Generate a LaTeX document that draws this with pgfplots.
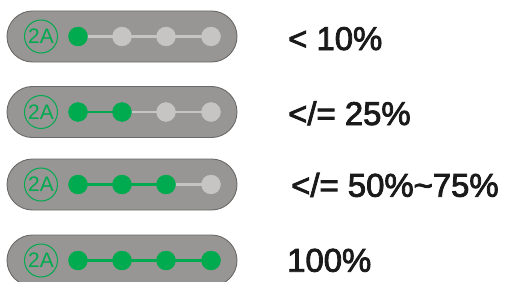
\documentclass[border=0pt]{standalone}
\usepackage{pgfplots}
\pgfplotsset{compat=1.18}
\usepackage{fontspec}
\setmainfont{Liberation Sans}
\newfontfamily\labfont{Liberation Sans}[FakeBold=2.5]
\definecolor{pillfill}{HTML}{979694}
\definecolor{pilledge}{HTML}{6B6A68}
\definecolor{grn}{HTML}{00AA4F}
\definecolor{dotgray}{HTML}{C6C5C3}
\definecolor{txt}{HTML}{1A1A1A}
\begin{document}
\begin{tikzpicture}
\begin{axis}[
  at={(0,0)}, anchor=south west,
  width=505bp, height=282bp, scale only axis, hide axis,
  xmin=0, xmax=505, ymin=0, ymax=282, y dir=reverse,
  clip=true,
]
% pills
\draw[fill=pillfill, draw=pilledge, line width=0.9bp, rounded corners=25.5bp] (axis cs:7,11) rectangle (axis cs:237,62);
\draw[fill=pillfill, draw=pilledge, line width=0.9bp, rounded corners=25.5bp] (axis cs:7,86.5) rectangle (axis cs:237,137.5);
\draw[fill=pillfill, draw=pilledge, line width=0.9bp, rounded corners=25.5bp] (axis cs:7,159) rectangle (axis cs:237,210);
\draw[fill=pillfill, draw=pilledge, line width=0.9bp, rounded corners=25.5bp] (axis cs:7,235) rectangle (axis cs:237,286);
% 2A badges
\addplot[only marks, mark=o, mark size=16.5bp, mark options={draw=grn, line width=1bp}] coordinates {(41,36.5) (41,112) (41,184.5) (41,260.5)};
\node[text=grn, font=\fontsize{21}{21}\selectfont, inner sep=0pt] at (axis cs:41,36.5) {2A};
\node[text=grn, font=\fontsize{21}{21}\selectfont, inner sep=0pt] at (axis cs:41,112) {2A};
\node[text=grn, font=\fontsize{21}{21}\selectfont, inner sep=0pt] at (axis cs:41,184.5) {2A};
\node[text=grn, font=\fontsize{21}{21}\selectfont, inner sep=0pt] at (axis cs:41,260.5) {2A};
% connecting lines
\addplot[dotgray, line width=2.3bp] coordinates {(78,36.5) (211,36.5)};
\addplot[dotgray, line width=2.3bp] coordinates {(122,112) (211,112)};
\addplot[grn, line width=2.3bp] coordinates {(78,112) (122,112)};
\addplot[dotgray, line width=2.3bp] coordinates {(166,184.5) (211,184.5)};
\addplot[grn, line width=2.3bp] coordinates {(78,184.5) (166,184.5)};
\addplot[grn, line width=2.3bp] coordinates {(78,260.5) (211,260.5)};
% dots
\addplot[only marks, mark=*, mark size=9.5bp, mark options={draw=grn, fill=grn}] coordinates {(78,36.5) (78,112) (122,112) (78,184.5) (122,184.5) (166,184.5) (78,260.5) (122,260.5) (166,260.5) (211,260.5)};
\addplot[only marks, mark=*, mark size=9.5bp, mark options={draw=dotgray, fill=dotgray}] coordinates {(122,36.5) (166,36.5) (211,36.5) (166,112) (211,112) (211,184.5)};
% labels
\node[anchor=base west, inner sep=0pt, text=txt, font=\labfont\fontsize{33}{33}\selectfont] at (axis cs:288,50) {< 10\%};
\node[anchor=base west, inner sep=0pt, text=txt, font=\labfont\fontsize{33}{33}\selectfont] at (axis cs:288,125) {</= 25\%};
\node[anchor=base west, inner sep=0pt, text=txt, font=\labfont\fontsize{33}{33}\selectfont] at (axis cs:291,196.7) {</= 50\%\textasciitilde75\%};
\node[anchor=base west, inner sep=0pt, text=txt, font=\labfont\fontsize{33}{33}\selectfont] at (axis cs:287,271.7) {100\%};
\end{axis}
\pgfresetboundingbox
\path[use as bounding box] (0,0) rectangle (505bp,282bp);
\end{tikzpicture}
\end{document}
